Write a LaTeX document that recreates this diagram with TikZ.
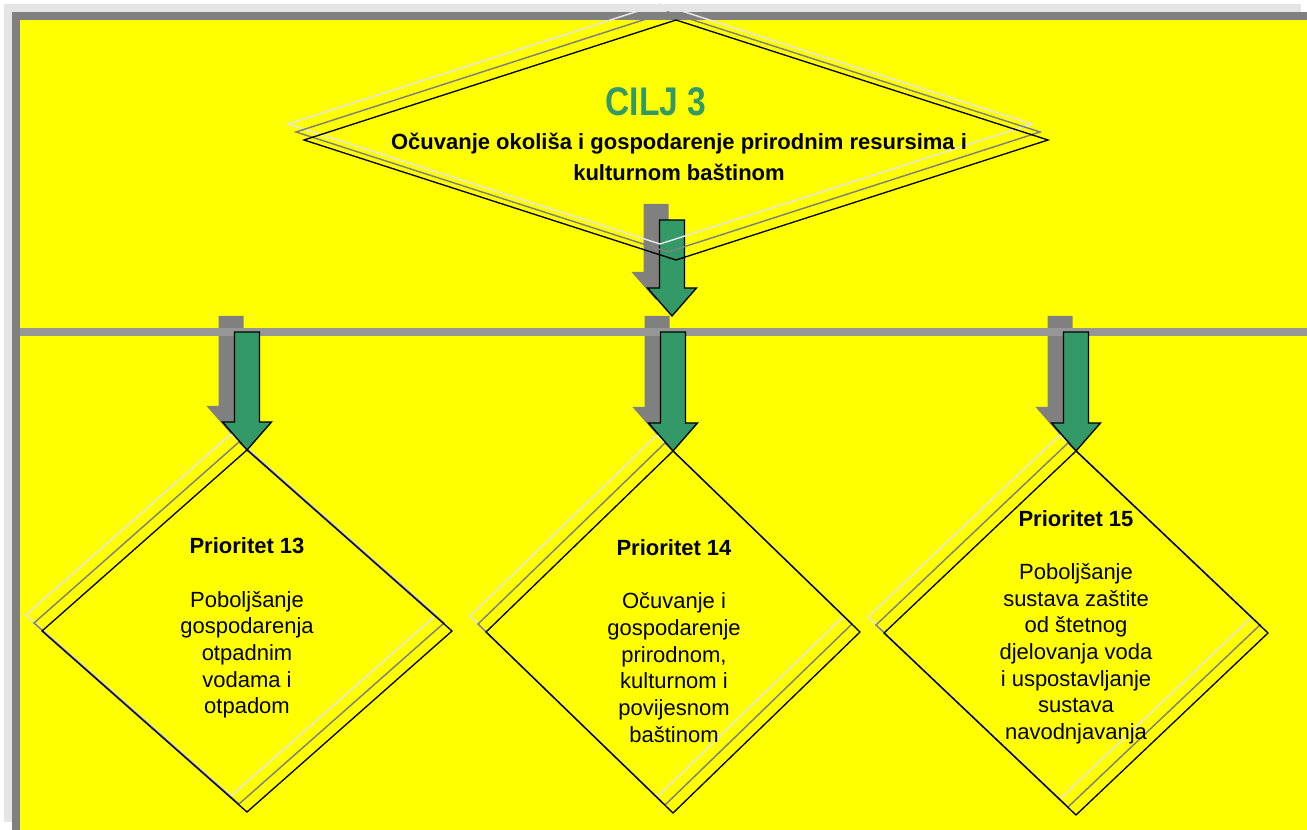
\documentclass[tikz,border=0pt]{standalone}
\usepackage{fontspec}
\setmainfont{Liberation Sans}
\newfontfamily\ciljfont[FakeStretch=0.84]{Liberation Sans}
\usetikzlibrary{shapes.geometric,calc}

\definecolor{ciljgreen}{RGB}{51,153,102}
\definecolor{ciljyellow}{RGB}{255,255,0}
\definecolor{shadowgray}{RGB}{128,128,128}
\definecolor{bargray}{RGB}{150,150,150}
\definecolor{lightshadow}{RGB}{229,229,229}

% block arrow: style, top of shaft, tip
\newcommand{\blockarrow}[3]{%
\path[#1] ($(#2)+(-12.5,0)$) -- ($(#2)+(12.5,0)$) -- ($(#3)+(12.5,-28)$) -- ($(#3)+(24.5,-28)$) -- (#3) -- ($(#3)+(-24.5,-28)$) -- ($(#3)+(-12.5,-28)$) -- cycle ;}

\tikzset{every picture/.style={line width=0.75pt},
  rhomb/.style={diamond, draw=black, line width=1pt, inner sep=0pt, outer sep=0pt},
  rhombgray/.style={rhomb, draw=shadowgray, line width=1.1pt},
  rhomblight/.style={rhomb, draw=lightshadow, line width=1.1pt},
  goalsize/.style={minimum width=558pt, minimum height=180pt},
  prio1size/.style={minimum width=307.5pt, minimum height=271.5pt},
  prio2size/.style={minimum width=280.5pt, minimum height=271.5pt},
  prio3size/.style={minimum width=288pt, minimum height=273pt},
  arrowgreen/.style={fill=ciljgreen, draw=black, line width=1pt, line join=miter},
  arrowshadow/.style={fill=shadowgray, draw=none, transform canvas={shift={(-16,16)}}},
  priotext/.style={align=center, font=\fontsize{16.5}{20}\selectfont, inner sep=0pt}
}

\begin{document}
\begin{tikzpicture}[x=0.75pt,y=0.75pt,yscale=-1,xscale=1]
\useasboundingbox (0,0) rectangle (1307,830);

%Frame
\fill[lightshadow] (4,4) rectangle (1301,822);
\fill[shadowgray] (12,12) rectangle (1307,830);
\fill[ciljyellow] (20,20) rectangle (1307,830);

\coordinate (barL) at (20,332);
\coordinate (barR) at (1307,332);
\coordinate (goalfoot) at (672,220);
\coordinate (goaltip) at (672,316);
\coordinate (c0) at (676,140);
\coordinate (c1) at (247,631);
\coordinate (c2) at (673,632);
\coordinate (c3) at (1076,633);

%Shape: Diamond (Prioritet 13)
\node[rhomblight, prio1size] (p1l) at ($(c1)+(-16,-16)$) {};
\node[rhombgray, prio1size] (p1g) at ($(c1)+(-8,-8)$) {};
\node[rhomb, prio1size] (p1) at (c1) {};
%Shape: Diamond (Prioritet 14)
\node[rhomblight, prio2size] (p2l) at ($(c2)+(-16,-16)$) {};
\node[rhombgray, prio2size] (p2g) at ($(c2)+(-8,-8)$) {};
\node[rhomb, prio2size] (p2) at (c2) {};
%Shape: Diamond (Prioritet 15)
\node[rhomblight, prio3size] (p3l) at ($(c3)+(-16,-16)$) {};
\node[rhombgray, prio3size] (p3g) at ($(c3)+(-8,-8)$) {};
\node[rhomb, prio3size] (p3) at (c3) {};

%Block Arrows, shadows
\blockarrow{arrowshadow}{goalfoot}{goaltip}
\blockarrow{arrowshadow}{p1.north |- barL}{p1.north}
\blockarrow{arrowshadow}{p2.north |- barL}{p2.north}
\blockarrow{arrowshadow}{p3.north |- barL}{p3.north}

%Straight Lines
\draw[bargray, line width=6pt] (barL) -- (barR) ;

%Block Arrows
\blockarrow{arrowgreen}{goalfoot}{goaltip}
\blockarrow{arrowgreen}{p1.north |- barL}{p1.north}
\blockarrow{arrowgreen}{p2.north |- barL}{p2.north}
\blockarrow{arrowgreen}{p3.north |- barL}{p3.north}

%Shape: Diamond (CILJ 3)
\node[rhomblight, goalsize] (goall) at ($(c0)+(-16,-16)$) {};
\node[rhombgray, goalsize] (goalg) at ($(c0)+(-8,-8)$) {};
\node[rhomb, goalsize] (goal) at (c0) {};

% Text Node
\node[font=\ciljfont\fontsize{30}{34}\selectfont\bfseries, text=ciljgreen, inner sep=0pt] (cilj) at (656,102) {CILJ 3};
% Text Node
\node[align=center, font=\fontsize{16.5}{23.25}\selectfont\bfseries, inner sep=0pt] (goaltxt) at (679,157) {Očuvanje okoliša i gospodarenje prirodnim resursima i\\kulturnom baštinom};
% Text Node
\node[priotext] (t1) at (247,628) {\textbf{Prioritet 13}\\[20pt]Poboljšanje\\gospodarenja\\otpadnim\\vodama i\\otpadom};
% Text Node
\node[priotext] (t2) at (674,641) {\textbf{Prioritet 14}\\[20pt]Očuvanje i\\gospodarenje\\prirodnom,\\kulturnom i\\povijesnom\\baštinom};
% Text Node
\node[priotext] (t3) at (1076,627) {\textbf{Prioritet 15}\\[20pt]Poboljšanje\\sustava zaštite\\od štetnog\\djelovanja voda\\i uspostavljanje\\sustava\\navodnjavanja};

\end{tikzpicture}
\end{document}
